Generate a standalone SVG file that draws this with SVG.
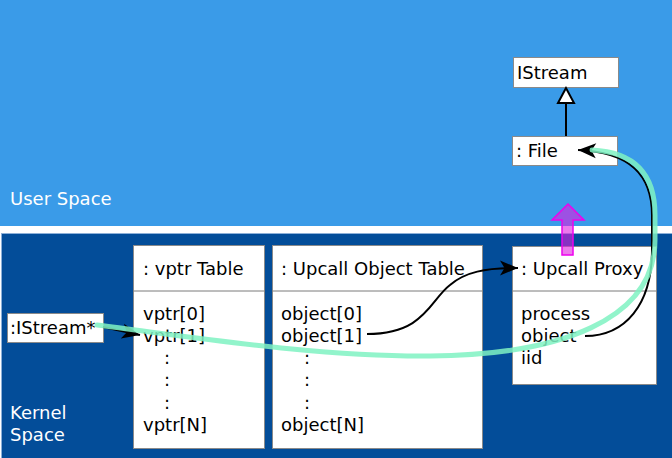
<svg xmlns="http://www.w3.org/2000/svg" width="672" height="458" viewBox="0 0 672 458">
<style>
  text { font-family: "DejaVu Sans", "Liberation Sans", sans-serif; font-size: 18px; fill: #000; }
  .lbl { fill: #fff; }
  .box { fill: #fff; stroke: #8a8a8a; stroke-width: 1; }
  .sep { stroke: #7a7a7a; stroke-width: 1; }
  .conn { fill: none; stroke: #000; stroke-width: 2; }
  .hl { fill: none; stroke: #7ff2c2; stroke-width: 5; stroke-opacity: 0.85; stroke-linecap: round; }
</style>
<defs>
  <marker id="arr" markerUnits="userSpaceOnUse" markerWidth="24" markerHeight="18" refX="20" refY="9" orient="auto" overflow="visible">
    <path d="M20,9 L2,1.5 L6.5,9 L2,16.5 Z" fill="#000"/>
  </marker>
  <marker id="tri" markerUnits="userSpaceOnUse" markerWidth="20" markerHeight="20" refX="16" refY="8" orient="auto" overflow="visible">
    <path d="M16,8 L1,0 L1,16 Z" fill="#fff" stroke="#000" stroke-width="2"/>
  </marker>
</defs>

<!-- regions -->
<rect x="0" y="0" width="672" height="226" fill="#3a9be8"/>
<rect x="0" y="226" width="672" height="7" fill="#fff"/>
<rect x="1.5" y="233.5" width="672" height="226" fill="#034d99" stroke="#8db0d8" stroke-width="1"/>
<text class="lbl" x="10" y="205">User Space</text>
<text class="lbl" x="10" y="419">Kernel</text>
<text class="lbl" x="10" y="441">Space</text>

<g id="istream">
  <rect class="box" x="513.5" y="57.5" width="105" height="30"/>
  <text x="517" y="79">IStream</text>
</g>
<g id="file">
  <rect class="box" x="512.5" y="136.5" width="105" height="29"/>
  <text x="516" y="157">: File</text>
</g>
<g id="istreamptr">
  <rect class="box" x="7.5" y="313.5" width="96" height="29"/>
  <text x="10" y="334">:IStream*</text>
</g>
<g id="vptrtable">
  <rect class="box" x="133.5" y="245.5" width="131" height="203"/>
  <line class="sep" x1="133.5" y1="291" x2="264.5" y2="291"/>
  <text x="143" y="275">: vptr Table</text>
  <text x="143" y="320">vptr[0]</text>
  <text x="143" y="342">vptr[1]</text>
  <text x="164" y="364">:</text>
  <text x="164" y="386">:</text>
  <text x="164" y="409">:</text>
  <text x="143" y="431">vptr[N]</text>
</g>
<g id="upcalltable">
  <rect class="box" x="272.5" y="245.5" width="210" height="203"/>
  <line class="sep" x1="272.5" y1="291" x2="482.5" y2="291"/>
  <text x="281" y="275">: Upcall Object Table</text>
  <text x="281" y="320">object[0]</text>
  <text x="281" y="342">object[1]</text>
  <text x="304" y="364">:</text>
  <text x="304" y="386">:</text>
  <text x="304" y="409">:</text>
  <text x="281" y="431">object[N]</text>
</g>
<g id="upcallproxy">
  <rect class="box" x="512.5" y="246.5" width="144" height="138"/>
  <line class="sep" x1="512.5" y1="291" x2="656.5" y2="291"/>
  <text x="521" y="275">: Upcall Proxy</text>
  <text x="521" y="320">process</text>
  <text x="521" y="342">object</text>
  <text x="521" y="364">iid</text>
</g>

<g id="connectors">
  <line class="conn" x1="566" y1="136" x2="566" y2="88" marker-end="url(#tri)"/>
  <path class="conn" d="M103,327 L140,335" marker-end="url(#arr)"/>
  <path class="conn" d="M367,334 C425,334 430,300 450,285 C465,272 485,268 518,268" marker-end="url(#arr)"/>
  <path class="conn" d="M585,336 C625,336 652,305 652,250 L652,215 C652,175 630,152 578,150" marker-end="url(#arr)"/>
  <path class="hl" d="M97,325 C200,338 320,357 430,356 C560,355 655,320 655,240 L655,215 C655,172 632,152 592,150"/>
  <polygon points="568,204 584,220 573,220 573,255 562,255 562,220 552,220" fill="#e020e0" fill-opacity="0.6" stroke="#ee00ee" stroke-width="1.5"/>
</g>
</svg>
